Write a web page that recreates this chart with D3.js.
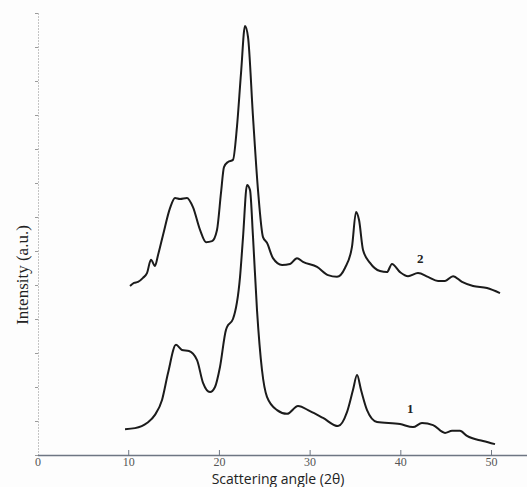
<!DOCTYPE html>
<html>
<head>
<meta charset="utf-8">
<script src="https://cdn.jsdelivr.net/npm/d3@7"></script>
<style>
  body { margin: 0; background: #fdfdfd; }
  svg { display: block; }
</style>
</head>
<body>
<div id="container"></div>
<script>
//DATA (2theta in degrees, intensity in arbitrary units)
const xTicks = [0, 10, 20, 30, 40, 50];
const yTicks = d3.range(0, 14);

// pattern 1 (lower)
const angle1 = [9.65, 10.75, 12.07, 12.95, 13.73, 14.39, 15.27, 15.93, 16.70, 17.59,
  18.25, 19.02, 19.57, 20.12, 20.78, 20.89, 21.55, 22.33, 22.66, 23.10,
  23.43, 23.76, 24.20, 24.75, 25.30, 26.41, 27.51, 28.72, 30.04, 31.48,
  33.13, 34.12, 34.78, 35.23, 35.67, 36.33, 37.43, 39.97, 41.40, 42.39,
  43.61, 44.93, 45.70, 46.58, 47.35, 49.12, 50.44];
const int1 = [0.76, 0.79, 0.94, 1.18, 1.62, 2.41, 3.24, 3.09, 3.06, 2.79,
  2.12, 1.85, 2.00, 2.59, 3.68, 3.76, 4.00, 5.24, 6.41, 7.94,
  7.79, 6.41, 4.26, 2.50, 1.71, 1.32, 1.21, 1.44, 1.29, 1.09,
  0.85, 1.26, 1.91, 2.35, 1.91, 1.32, 0.97, 0.91, 0.82, 0.94,
  0.88, 0.65, 0.71, 0.71, 0.56, 0.41, 0.32];

// pattern 2 (upper)
const angle2 = [10.20, 10.64, 11.08, 11.63, 12.07, 12.51, 12.95, 13.29, 13.84, 14.61,
  15.16, 15.71, 16.48, 17.14, 17.92, 18.58, 19.24, 19.79, 20.23, 20.56,
  21.00, 21.55, 21.99, 22.44, 22.88, 23.21, 23.76, 24.31, 24.86, 25.30,
  25.96, 26.96, 27.84, 28.61, 29.27, 30.82, 32.03, 33.02, 33.90, 34.67,
  35.12, 35.45, 35.89, 36.66, 37.76, 38.53, 39.08, 39.97, 40.85, 41.95,
  43.05, 44.16, 44.93, 45.81, 46.80, 48.02, 49.56, 50.99];
const int2 = [4.97, 5.06, 5.09, 5.21, 5.35, 5.74, 5.56, 5.88, 6.47, 7.26,
  7.56, 7.53, 7.56, 7.29, 6.62, 6.26, 6.29, 6.62, 7.71, 8.47,
  8.62, 8.68, 9.65, 11.24, 12.62, 12.29, 9.94, 7.79, 6.41, 6.24,
  5.79, 5.59, 5.62, 5.79, 5.68, 5.53, 5.29, 5.24, 5.50, 6.12,
  7.15, 6.91, 6.03, 5.65, 5.41, 5.38, 5.62, 5.38, 5.26, 5.35,
  5.24, 5.12, 5.12, 5.26, 5.09, 4.97, 4.91, 4.76];

const curveLabels = ["1", "2"];
const labelPos = [[41.1, 1.24], [42.2, 5.65]];

//SVG
const width = 527;
const height = 487;

const svg = d3.select("div#container").append("svg")
    .attr("width", width)
    .attr("height", height);

//SCALES
const xScale = d3.scaleLinear().domain([0, 54]).range([37.5, 527.3]);
const yScale = d3.scaleLinear().domain([0, 13]).range([455, 13]);

//AXES
const yAxis = svg.append("g")
    .attr("transform", "translate(38,0)")
    .call(d3.axisLeft(yScale).tickValues(yTicks).tickSize(3).tickSizeOuter(0).tickFormat(""));
yAxis.select(".domain").attr("stroke", "#8a8a8a").attr("stroke-dasharray", "1,2");
yAxis.selectAll(".tick line").attr("stroke", "#9a9a9a");

const xAxis = svg.append("g")
    .attr("transform", "translate(0,455)")
    .call(d3.axisBottom(xScale).tickValues(xTicks).tickSize(-5).tickSizeOuter(0).tickPadding(2));
xAxis.select(".domain").attr("stroke", "#6e7683").attr("stroke-width", 1.3);
xAxis.selectAll(".tick line").attr("stroke", "#6e7683");
xAxis.selectAll(".tick text")
    .attr("font-family", "Liberation Serif, serif")
    .attr("font-size", 12)
    .attr("fill", "#555");
xAxis.selectAll(".tick").filter(d => d === 0).select("line").remove();

//LINES
const line = d3.line()
    .x(function(d) { return xScale(d[0]); })
    .y(function(d) { return yScale(d[1]); })
    .curve(d3.curveMonotoneX);

const series = [d3.zip(angle1, int1), d3.zip(angle2, int2)];

svg.append("g")
    .selectAll("path.pattern")
    .data(series)
    .enter().append("path")
      .attr("class", "pattern")
      .attr("d", line)
      .attr("fill", "none")
      .attr("stroke", "#1b1b1b")
      .attr("stroke-width", 2)
      .attr("stroke-linejoin", "round");

//CURVE NUMBERS
svg.append("g")
    .selectAll("text")
    .data(curveLabels)
    .enter().append("text")
      .attr("x", (d, i) => xScale(labelPos[i][0]))
      .attr("y", (d, i) => yScale(labelPos[i][1]))
      .attr("text-anchor", "middle")
      .attr("font-family", "Liberation Serif, serif")
      .attr("font-weight", "bold")
      .attr("font-size", 13)
      .attr("fill", "#222")
      .text(d => d);

//AXIS TITLES
svg.append("text")
    .attr("x", 278)
    .attr("y", 484)
    .attr("text-anchor", "middle")
    .attr("font-family", "Open Sans, sans-serif")
    .attr("font-size", 14)
    .attr("fill", "#222")
    .text("Scattering angle (2θ)");

svg.append("text")
    .attr("transform", "translate(28,275) rotate(-90)")
    .attr("text-anchor", "middle")
    .attr("font-family", "Liberation Serif, serif")
    .attr("font-size", 17)
    .attr("fill", "#222")
    .text("Intensity (a.u.)");
</script>
</body>
</html>
